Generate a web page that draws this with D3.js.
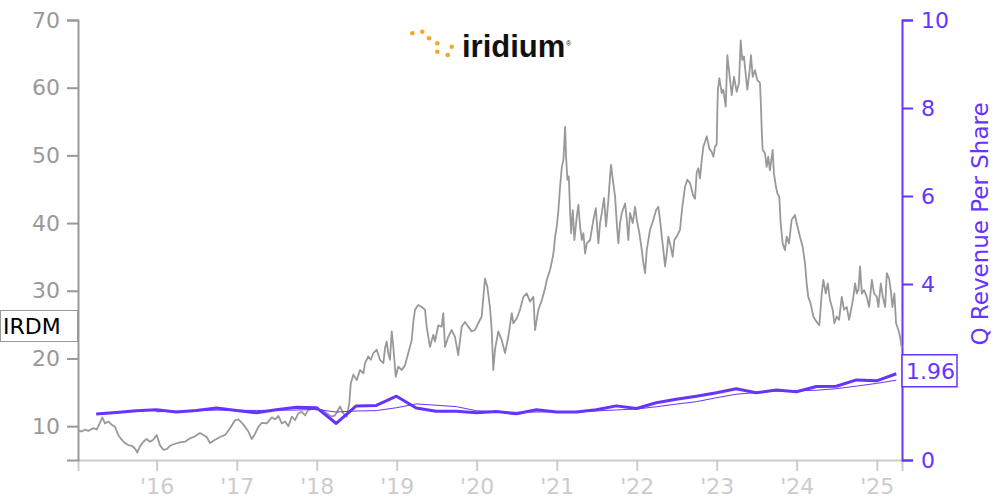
<!DOCTYPE html>
<html><head><meta charset="utf-8">
<script src="https://cdn.jsdelivr.net/npm/d3@7"></script>
<style>
html,body{margin:0;padding:0;background:#fff;}
svg{display:block;font-family:"DejaVu Sans",sans-serif;}
</style></head><body>
<svg id="chart" width="1000" height="500"></svg>
<script>
// ---------- DATA ----------
const priceYears = [2015.020,2015.063,2015.104,2015.145,2015.208,2015.250,2015.291,2015.320,2015.354,2015.395,2015.438,2015.479,2015.520,2015.563,2015.604,2015.645,2015.688,2015.729,2015.758,2015.791,2015.833,2015.875,2015.916,2015.958,
2016.000,2016.041,2016.083,2016.125,2016.166,2016.229,2016.291,2016.354,2016.416,2016.479,2016.541,2016.583,2016.625,2016.666,2016.729,2016.791,2016.854,2016.916,2016.979,
2017.020,2017.063,2017.104,2017.145,2017.188,2017.229,2017.270,2017.313,2017.375,2017.438,2017.479,2017.520,2017.563,2017.604,2017.645,2017.688,2017.729,2017.770,2017.813,2017.854,2017.895,2017.958,
2018.000,2018.063,2018.125,2018.188,2018.229,2018.291,2018.333,2018.375,2018.408,2018.425,2018.458,2018.500,2018.541,2018.583,2018.604,2018.645,2018.675,2018.708,2018.750,2018.791,2018.833,2018.854,2018.875,2018.895,2018.916,2018.938,2018.958,2018.988,
2019.020,2019.063,2019.104,2019.145,2019.188,2019.208,2019.229,2019.270,2019.313,2019.354,2019.375,2019.416,2019.458,2019.479,2019.520,2019.563,2019.583,2019.604,2019.645,2019.688,2019.729,2019.770,2019.813,2019.854,2019.895,2019.938,2019.979,
2020.020,2020.063,2020.104,2020.133,2020.166,2020.188,2020.208,2020.229,2020.270,2020.313,2020.354,2020.395,2020.438,2020.458,2020.500,2020.541,2020.583,2020.625,2020.666,2020.708,2020.729,2020.770,2020.813,2020.854,2020.875,2020.916,2020.938,2020.958,2020.979,
2021.000,2021.020,2021.041,2021.063,2021.083,2021.104,2021.116,2021.133,2021.150,2021.166,2021.179,2021.200,2021.220,2021.250,2021.270,2021.291,2021.313,2021.333,2021.354,2021.375,2021.416,2021.458,2021.488,2021.520,2021.541,2021.563,2021.591,2021.616,2021.645,2021.666,2021.679,2021.695,2021.729,2021.750,2021.770,2021.791,2021.813,2021.854,2021.875,2021.895,2021.916,2021.950,2021.979,
2022.000,2022.033,2022.063,2022.083,2022.104,2022.125,2022.166,2022.208,2022.241,2022.270,2022.291,2022.313,2022.333,2022.354,2022.375,2022.395,2022.425,2022.450,2022.470,2022.500,2022.541,2022.570,2022.604,2022.633,2022.666,2022.708,2022.729,2022.750,2022.770,2022.791,2022.813,2022.833,2022.854,2022.875,2022.908,2022.938,2022.958,2022.979,
2023.000,2023.008,2023.015,2023.033,2023.063,2023.083,2023.113,2023.133,2023.158,2023.188,2023.216,2023.250,2023.279,2023.300,2023.320,2023.341,2023.366,2023.383,2023.408,2023.429,2023.450,2023.479,2023.508,2023.541,2023.554,2023.563,2023.575,2023.604,2023.625,2023.645,2023.666,2023.700,2023.716,2023.741,2023.758,2023.783,2023.800,2023.825,2023.854,2023.875,2023.904,2023.938,2023.979,
2024.000,2024.041,2024.075,2024.104,2024.125,2024.145,2024.175,2024.208,2024.250,2024.283,2024.313,2024.333,2024.363,2024.388,2024.416,2024.450,2024.470,2024.500,2024.529,2024.563,2024.591,2024.625,2024.654,2024.679,2024.708,2024.729,2024.750,2024.770,2024.791,2024.813,2024.841,2024.875,2024.904,2024.938,2024.966,
2025.000,2025.020,2025.050,2025.075,2025.104,2025.125,2025.154,2025.179,2025.195,2025.220,2025.241,2025.270,2025.291,2025.313];
const priceValues = [9.4,9.2,9.5,9.3,9.7,9.5,10.5,11.3,10.4,10.7,10.2,9.9,8.7,8.0,7.5,7.2,7.1,6.7,6.1,7.0,7.7,8.1,7.7,8.0,
8.7,7.2,6.5,6.6,7.1,7.4,7.6,7.7,8.2,8.5,9.0,8.7,8.4,7.5,8.0,8.4,8.7,9.7,10.9,
11.0,10.5,9.9,9.2,8.1,8.9,9.9,10.5,10.4,11.3,11.0,11.5,10.4,10.7,10.0,11.4,10.9,11.9,12.1,11.6,12.4,12.6,
12.4,12.4,11.9,11.4,11.6,12.9,11.9,11.4,13.4,16.3,17.6,16.8,18.3,17.8,19.3,20.3,19.8,20.8,21.3,19.8,19.3,21.5,22.5,20.8,19.8,24.0,21.7,17.3,
18.8,18.3,19.0,20.8,22.7,25.4,27.2,27.9,27.6,27.2,24.7,21.7,23.5,22.5,24.9,24.7,26.7,21.7,23.2,24.2,23.2,20.5,24.7,25.4,24.7,24.0,24.2,
25.2,26.2,31.8,30.6,27.6,24.2,18.3,21.3,24.0,22.7,20.8,23.2,26.7,25.2,25.9,27.2,29.1,29.6,28.4,29.1,24.2,27.2,28.6,30.4,31.6,33.1,34.3,35.5,38.0,
39.5,41.9,45.4,48.3,49.3,54.2,49.8,46.4,46.9,41.9,38.5,41.9,37.5,41.0,42.7,39.5,37.5,38.5,35.5,37.0,37.5,40.5,42.2,37.0,40.0,41.5,43.7,39.5,43.4,46.9,48.6,46.9,43.9,40.0,37.0,40.0,41.5,42.9,40.5,37.5,41.5,40.0,42.4,
40.5,38.5,36.0,34.1,32.6,36.0,39.0,40.5,41.9,42.4,40.5,38.0,36.0,33.6,35.5,38.0,36.5,35.0,37.5,38.0,39.0,42.4,45.4,46.4,45.9,44.0,43.6,47.5,48.1,46.6,49.3,51.3,52.0,52.8,51.0,50.5,49.8,51.3,
51.6,56.7,59.7,61.4,59.2,59.7,57.2,64.8,62.1,58.9,61.6,59.4,60.7,67.0,64.1,64.6,61.6,59.7,62.1,64.8,61.6,62.6,61.1,60.7,57.2,53.8,50.8,50.3,48.3,49.8,47.8,50.8,47.3,45.4,44.4,43.9,40.0,37.0,36.0,38.0,37.0,40.5,41.2,
40.0,38.0,36.5,34.1,31.1,29.1,28.1,26.2,25.4,24.9,29.6,31.6,29.6,31.1,28.6,27.2,25.2,26.2,25.7,29.1,27.2,27.6,25.7,27.2,29.1,31.1,29.6,30.1,33.6,29.6,30.1,29.1,27.6,31.6,29.6,
29.1,27.6,31.1,29.1,27.6,32.6,31.8,29.6,27.6,29.6,25.2,24.2,23.2,21.5];

const quarterDates = ["2015-03-31","2015-06-30","2015-09-30","2015-12-31",
"2016-03-31","2016-06-30","2016-09-30","2016-12-31",
"2017-03-31","2017-06-30","2017-09-30","2017-12-31",
"2018-03-31","2018-06-30","2018-09-30","2018-12-31",
"2019-03-31","2019-06-30","2019-09-30","2019-12-31",
"2020-03-31","2020-06-30","2020-09-30","2020-12-31",
"2021-03-31","2021-06-30","2021-09-30","2021-12-31",
"2022-03-31","2022-06-30","2022-09-30","2022-12-31",
"2023-03-31","2023-06-30","2023-09-30","2023-12-31",
"2024-03-31","2024-06-30","2024-09-30","2024-12-31",
"2025-03-31"];
const revenuePerShare = [1.045,1.08,1.12,1.14, 1.09,1.125,1.18,1.125, 1.075,1.14,1.20,1.19,
0.83,1.23,1.24,1.45, 1.18,1.11,1.11,1.075, 1.10,1.05,1.14,1.09, 1.09,1.14,1.23,1.17,
1.30,1.38,1.45,1.53, 1.62,1.53,1.59,1.55, 1.67,1.675,1.82,1.80, 1.96];
const revenueTTMAvg = [null,null,null,1.096, 1.108,1.119,1.134,1.13, 1.126,1.13,1.135,1.151,
1.09,1.113,1.123,1.188, 1.275,1.245,1.213,1.119, 1.099,1.084,1.091,1.095, 1.093,1.115,1.138,1.158,
1.21,1.27,1.325,1.415, 1.495,1.533,1.568,1.573, 1.585,1.621,1.679,1.741, 1.814];

const xTickYears = [2016,2017,2018,2019,2020,2021,2022,2023,2024,2025];
const xTickLabels = ["'16","'17","'18","'19","'20","'21","'22","'23","'24","'25"];
const leftTicks = [10,20,30,40,50,60,70];
const rightTicks = [0,2,4,6,8,10];
const rightTickLabels = ["0","","4","6","8","10"]; // "2" is hidden behind the value box in the reference
const tickerLabel = "IRDM";
const lastRevenueLabel = "1.96";
const rightAxisTitle = "Q Revenue Per Share";

// ---------- DRAW ----------
const PURPLE = "#6633ff", GRAY = "#999999", LIGHT = "#cccccc";
const svg = d3.select("#chart");
function fromDecimal(y){const yr=Math.floor(y);const s=Date.UTC(yr,0,1),e=Date.UTC(yr+1,0,1);return new Date(s+(y-yr)*(e-s));}

const x = d3.scaleUtc().domain([new Date(Date.UTC(2015,0,7)), new Date(Date.UTC(2025,3,26))]).range([78,902]);
const yL = d3.scaleLinear().domain([5,70]).range([460,20]);
const yR = d3.scaleLinear().domain([0,10]).range([460,20]);

const price = priceYears.map((d,i)=>({date:fromDecimal(d), v:priceValues[i]}));
const rev = quarterDates.map((d,i)=>({date:new Date(d+"T00:00:00Z"), v:revenuePerShare[i], t:revenueTTMAvg[i]}));

// Bottom axis
const xAxis = d3.axisBottom(x)
  .tickValues(xTickYears.map(y=>new Date(Date.UTC(y,0,1))))
  .tickFormat((d,i)=>xTickLabels[i]).tickSize(11).tickSizeOuter(11).tickPadding(7);
const gx = svg.append("g").attr("transform","translate(0,460)").call(xAxis);
gx.select(".domain").attr("stroke",LIGHT).attr("stroke-width",2);
gx.selectAll(".tick line").attr("stroke",LIGHT).attr("stroke-width",2);
gx.selectAll(".tick text").attr("fill",LIGHT).attr("font-size",22).attr("font-family","DejaVu Sans");

// Left axis
const yAxisL = d3.axisLeft(yL).tickValues(leftTicks).tickSize(11).tickSizeOuter(11).tickPadding(7);
const gl = svg.append("g").attr("transform","translate(78,0)").call(yAxisL);
gl.select(".domain").attr("stroke",GRAY).attr("stroke-width",2);
gl.selectAll(".tick line").attr("stroke",GRAY).attr("stroke-width",2);
gl.selectAll(".tick text").attr("fill",GRAY).attr("font-size",22).attr("font-family","DejaVu Sans");

// Right axis
const yAxisR = d3.axisRight(yR).tickValues(rightTicks).tickFormat((d,i)=>rightTickLabels[i])
  .tickSize(11).tickSizeOuter(11).tickPadding(8);
const gr = svg.append("g").attr("transform","translate(902,0)").call(yAxisR);
gr.select(".domain").attr("stroke",PURPLE).attr("stroke-width",2);
gr.selectAll(".tick line").attr("stroke",PURPLE).attr("stroke-width",2);
gr.selectAll(".tick text").attr("fill",PURPLE).attr("font-size",22).attr("font-family","DejaVu Sans");

svg.append("text").attr("transform","translate(988,224) rotate(-90)")
  .attr("text-anchor","middle").attr("fill",PURPLE).attr("font-size",23).text(rightAxisTitle);

// Price line
svg.append("path").datum(price)
  .attr("fill","none").attr("stroke",GRAY).attr("stroke-width",1.8).attr("stroke-linejoin","round")
  .attr("d",d3.line().x(d=>x(d.date)).y(d=>yL(d.v)));

// Revenue TTM avg (thin)
svg.append("path").datum(rev)
  .attr("fill","none").attr("stroke",PURPLE).attr("stroke-width",1)
  .attr("d",d3.line().defined(d=>d.t!=null).x(d=>x(d.date)).y(d=>yR(d.t)));
// Quarterly revenue (thick)
svg.append("path").datum(rev)
  .attr("fill","none").attr("stroke",PURPLE).attr("stroke-width",3).attr("stroke-linejoin","round")
  .attr("d",d3.line().x(d=>x(d.date)).y(d=>yR(d.v)));

// Ticker label box (left)
const lb = svg.append("g");
lb.append("rect").attr("x",0.5).attr("y",310.5).attr("width",77).attr("height",31)
  .attr("fill","#fff").attr("stroke",GRAY).attr("stroke-width",1);
lb.append("text").attr("x",3).attr("y",333.5).attr("fill","#000").attr("font-size",22).text(tickerLabel);

// Last revenue label box (right)
const lastRev = rev[rev.length-1];
const ry = yR(lastRev.v) - 3;
const rb = svg.append("g");
rb.append("rect").attr("x",902).attr("y",ry-16).attr("width",55).attr("height",32)
  .attr("fill","#fff").attr("stroke",PURPLE).attr("stroke-width",1.5);
rb.append("text").attr("x",906).attr("y",ry+8).attr("fill",PURPLE).attr("font-size",22).text(lastRevenueLabel);

// Logo
const logo = svg.append("g");
const dots = [[412.3,33.3],[422.3,31.7],[429,38.3],[437.3,43.3],[451.7,46.7],[437.3,51.7],[447.7,55]];
logo.selectAll("circle").data(dots).enter().append("circle")
  .attr("cx",d=>d[0]).attr("cy",d=>d[1]).attr("r",2.3).attr("fill","#f7a823");
logo.append("text").attr("x",462).attr("y",57).attr("font-family","Liberation Sans, Arial, sans-serif")
  .attr("font-weight","bold").attr("font-size",31).attr("fill","#111").text("iridium");
logo.append("text").attr("x",566).attr("y",46).attr("font-family","Liberation Sans, Arial, sans-serif")
  .attr("font-size",7).attr("fill","#111").text("®");
</script>
</body></html>
